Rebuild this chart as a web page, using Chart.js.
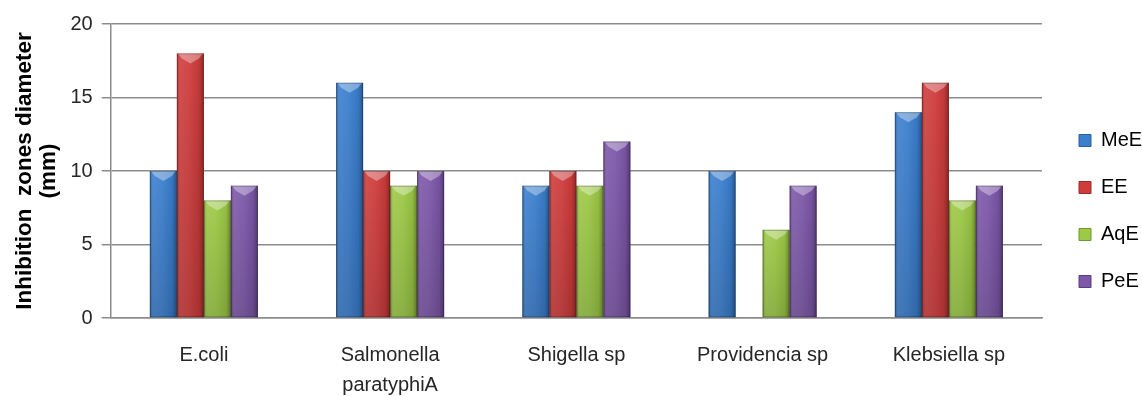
<!DOCTYPE html>
<html>
<head>
<meta charset="utf-8">
<script src="https://cdn.jsdelivr.net/npm/chart.js@4/dist/chart.umd.min.js"></script>
<style>
  html, body { margin: 0; padding: 0; background: #fff; }
  #wrap { width: 1142px; height: 396px; }
</style>
</head>
<body>
<div id="wrap"><canvas id="myChart" width="1142" height="396"></canvas></div>
<script>
// Inhibition zone diameters (mm) per organism and extract
const organisms = ['E.coli', ['Salmonella', 'paratyphiA'], 'Shigella sp', 'Providencia sp', 'Klebsiella sp'];
const meE = [10, 16, 9, 10, 14];
const eE  = [18, 10, 10, 0, 16];
const aqE = [8, 9, 9, 6, 8];
const peE = [9, 10, 12, 9, 9];
const yTicks = [0, 5, 10, 15, 20];

const FONT = "'Liberation Sans', Arial, sans-serif";
const GRID = '#8c8c8c';

// Office-style bevel: side shading plus a light chevron on the bar top
const bevelBars = {
    id: 'bevelBars',
    afterDatasetsDraw(chart) {
        const ctx = chart.ctx;
        chart.data.datasets.forEach((ds, i) => {
            const meta = chart.getDatasetMeta(i);
            meta.data.forEach(bar => {
                const { x, y, base, width } = bar.getProps(['x', 'y', 'base', 'width'], true);
                const h = base - y;
                if (h < 1) return;
                const left = x - width / 2;
                const right = x + width / 2;

                ctx.save();
                let g = ctx.createLinearGradient(left, 0, right, 0);
                g.addColorStop(0, 'rgba(0,0,0,0.22)');
                g.addColorStop(0.12, 'rgba(255,255,255,0.10)');
                g.addColorStop(0.45, 'rgba(255,255,255,0.06)');
                g.addColorStop(0.82, 'rgba(0,0,0,0.06)');
                g.addColorStop(1, 'rgba(0,0,0,0.32)');
                ctx.fillStyle = g;
                ctx.fillRect(left, y, width, h);

                g = ctx.createLinearGradient(0, y, 0, base);
                g.addColorStop(0, 'rgba(0,0,0,0)');
                g.addColorStop(1, 'rgba(0,0,0,0.14)');
                ctx.fillStyle = g;
                ctx.fillRect(left, y, width, h);

                const d = Math.min(10, h);
                ctx.beginPath();
                ctx.moveTo(left + 1, y);
                ctx.lineTo(right - 1, y);
                ctx.lineTo(right - 5, y + d * 0.5);
                ctx.lineTo(x, y + d);
                ctx.lineTo(left + 5, y + d * 0.5);
                ctx.closePath();
                ctx.fillStyle = 'rgba(255,255,255,0.35)';
                ctx.fill();

                ctx.strokeStyle = 'rgba(0,0,0,0.25)';
                ctx.lineWidth = 1;
                ctx.strokeRect(left + 0.5, y + 0.5, width - 1, h - 1);
                ctx.restore();
            });
        });
    }
};

// Keep the legend narrow and nudge it into place
const LEGEND_WIDTH = 100;
const legendPlace = {
    id: 'legendPlace',
    afterInit(chart) {
        const lg = chart.legend;
        if (!lg) return;
        const fit = lg.fit.bind(lg);
        lg.fit = function () { fit(); this.width = LEGEND_WIDTH; };
        const draw = lg.draw.bind(lg);
        lg.draw = function () {
            const c = this.ctx;
            c.save();
            c.translate(10, -8);
            draw();
            c.restore();
        };
    }
};

function makeSet(label, data, color, edge) {
    return {
        label: label,
        data: data,
        backgroundColor: color,
        borderColor: edge,
        borderWidth: 0,
        categoryPercentage: 0.58,
        barPercentage: 1.0
    };
}

const ctx = document.getElementById('myChart').getContext('2d');
new Chart(ctx, {
    type: 'bar',
    data: {
        labels: organisms,
        datasets: [
            makeSet('MeE', meE, '#3b7fcf', '#2a5f9e'),
            makeSet('EE', eE, '#d03c3c', '#9c2a2a'),
            makeSet('AqE', aqE, '#9dca46', '#6f9630'),
            makeSet('PeE', peE, '#7d58aa', '#5a3d7f')
        ]
    },
    options: {
        responsive: false,
        animation: false,
        layout: { padding: { left: 12, right: 0, top: 24, bottom: -18 } },
        plugins: {
            tooltip: { enabled: false },
            legend: {
                display: true,
                position: 'right',
                labels: {
                    boxWidth: 12,
                    boxHeight: 12,
                    padding: 27,
                    color: '#1a1a1a',
                    font: { family: FONT, size: 20 },
                    generateLabels(chart) {
                        return chart.data.datasets.map((ds, i) => ({
                            text: ds.label,
                            fillStyle: ds.backgroundColor,
                            strokeStyle: ds.borderColor,
                            lineWidth: 1,
                            datasetIndex: i
                        }));
                    }
                }
            }
        },
        scales: {
            x: {
                grid: { display: false },
                border: { display: true, color: GRID, width: 1.5 },
                ticks: {
                    color: '#262626',
                    padding: 14,
                    maxRotation: 0,
                    autoSkip: false,
                    font: { family: FONT, size: 20, lineHeight: 1.5 }
                }
            },
            y: {
                min: 0,
                max: 20,
                afterBuildTicks(axis) {
                    axis.ticks = yTicks.map(v => ({ value: v }));
                },
                grid: { color: GRID, lineWidth: 1.5, tickLength: 9 },
                border: { color: GRID, width: 1.5 },
                ticks: {
                    color: '#262626',
                    padding: 9,
                    font: { family: FONT, size: 20 }
                },
                title: {
                    display: true,
                    text: ['Inhibition  zones diameter', '(mm)'],
                    color: '#000',
                    padding: { top: 0, bottom: 0 },
                    font: { family: FONT, size: 22.5, weight: 'bold', lineHeight: 1.1 }
                }
            }
        }
    },
    plugins: [bevelBars, legendPlace]
});
</script>
</body>
</html>
